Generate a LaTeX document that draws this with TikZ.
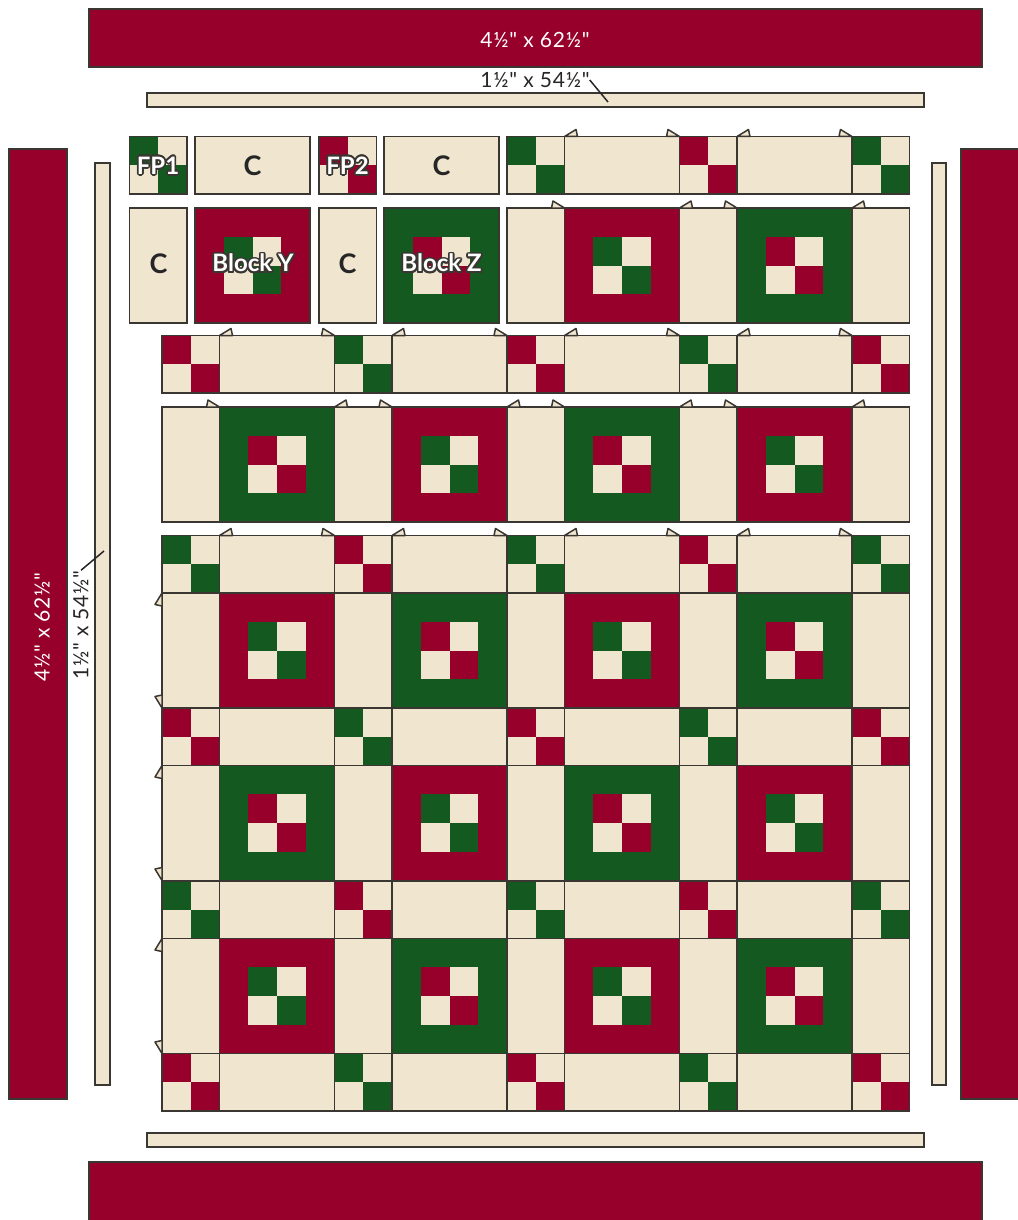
\documentclass[tikz,border=0pt]{standalone}
\usepackage{fontspec}
\setmainfont{Lato}
\newfontfamily\dimfont{Lato}[LetterSpace=3.6]
\newfontfamily\tagfont{Lato Bold}
\usepackage[copies]{contour}
\contourlength{1.7pt}
\contournumber{16}
\definecolor{qRed}{RGB}{150,0,42}
\definecolor{qGreen}{RGB}{20,90,32}
\definecolor{qCream}{RGB}{240,230,208}
\definecolor{qLine}{RGB}{58,54,50}
\newcommand{\fpatch}[3]{%
  \fill[qCream] (#1,#2) rectangle ++(57.5,57.5);
  \fill[#3] (#1,#2) rectangle ++(28.75,28.75);
  \fill[#3] ({#1+28.75},{#2+28.75}) rectangle ++(28.75,28.75);
  \draw[seam] (#1,#2) rectangle ++(57.5,57.5);}
\newcommand{\block}[4]{%
  \fill[#3] (#1,#2) rectangle ++(115,115);
  \fill[qCream] ({#1+28.75},{#2+28.75}) rectangle ++(57.5,57.5);
  \fill[#4] ({#1+28.75},{#2+28.75}) rectangle ++(28.75,28.75);
  \fill[#4] ({#1+57.5},{#2+57.5}) rectangle ++(28.75,28.75);
  \draw[seam] (#1,#2) rectangle ++(115,115);}
\newcommand{\sashC}[2]{\draw[seam,fill=qCream] (#1,#2) rectangle ++(115,57.5);}
\newcommand{\postC}[2]{\draw[seam,fill=qCream] (#1,#2) rectangle ++(57.5,115);}
% one ear on the top edge, pointing right (+1) or left (-1)
\newcommand{\ear}[3]{\draw[seam,fill=qCream,line join=round] (#1,#2) -- ++({#3*11.5},-7) -- ++({#3*1.5},7) -- cycle;}
% one ear on the left edge, pointing down (+1) or up (-1)
\newcommand{\sideear}[3]{\draw[seam,fill=qCream,line join=round] (#1,#2) -- ++(-7,{#3*11.5}) -- ++(7,{#3*1.5}) -- cycle;}
% the two ears on top of a horizontal C, or of a vertical C
\newcommand{\sashears}[2]{\ear{#1}{#2}{1}\ear{#1+115}{#2}{-1}}
\newcommand{\postears}[2]{\ear{#1}{#2}{1}\ear{#1+57.5}{#2}{-1}}
\newcommand{\sashrow}[3]{%
  \foreach \cx/\cc in {162/#2,334.5/#3,507/#2,679.5/#3,852/#2} {\fpatch{\cx}{#1}{\cc}}
  \foreach \cx in {219.5,392,564.5,737} {\sashC{\cx}{#1}}}
\newcommand{\blockrow}[5]{%
  \foreach \cx in {162,334.5,507,679.5,852} {\postC{\cx}{#1}}
  \block{219.5}{#1}{#2}{#3}\block{392}{#1}{#4}{#5}
  \block{564.5}{#1}{#2}{#3}\block{737}{#1}{#4}{#5}}

\begin{document}
\begin{tikzpicture}[x=1pt,y=-1pt,
   seam/.style={draw=qLine,line width=1.5pt},
   strip/.style={draw=qLine,line width=1.5pt,fill=qCream},
   border/.style={draw=qLine,line width=1.5pt,fill=qRed},
   dim/.style={font=\dimfont\fontsize{21}{21}\selectfont,inner sep=0pt},
   letter/.style={font=\tagfont\fontsize{27}{27}\selectfont,text=black!85,inner sep=0pt},
   tag/.style={font=\tagfont\fontsize{24}{24}\selectfont,text=white,inner sep=0pt},
   leader/.style={line width=1.5pt,draw=black!85}]
\useasboundingbox (0,0) rectangle (1017,1220);
%% ---- outer borders and thin strips ----
\draw[border] (89,9) rectangle (982,67);
\draw[border] (89,1162) rectangle (982,1230);
\draw[border] (9,149) rectangle (67,1099);
\draw[border] (961,149) rectangle (1030,1099);
\draw[strip] (147,93) rectangle (924,107);
\draw[strip] (147,1133) rectangle (924,1147);
\draw[strip] (95,163) rectangle (110,1085);
\draw[strip] (932,163) rectangle (946,1085);
%% ---- exploded top rows ----
\fpatch{129.5}{136.5}{qGreen}
\draw[seam,fill=qCream] (195,136.5) rectangle ++(115,57.5);
\fpatch{319}{136.5}{qRed}
\draw[seam,fill=qCream] (384,136.5) rectangle ++(115,57.5);
\foreach \cx/\cc in {507/qGreen,679.5/qRed,852/qGreen} {\fpatch{\cx}{136.5}{\cc}}
\foreach \cx in {564.5,737} {\sashC{\cx}{136.5}\sashears{\cx}{136.5}}
\postC{129.5}{208}
\block{195}{208}{qRed}{qGreen}
\postC{319}{208}
\block{384}{208}{qGreen}{qRed}
\foreach \cx in {507,679.5,852} {\postC{\cx}{208}}
\block{564.5}{208}{qRed}{qGreen}
\block{737}{208}{qGreen}{qRed}
\ear{564.5}{208}{-1}
\postears{679.5}{208}
\ear{852}{208}{1}
%% ---- the joined rows ----
\sashrow{335.5}{qRed}{qGreen}
\blockrow{407}{qGreen}{qRed}{qRed}{qGreen}
\sashrow{535.5}{qGreen}{qRed}
\blockrow{593}{qRed}{qGreen}{qGreen}{qRed}
\sashrow{708}{qRed}{qGreen}
\blockrow{765.5}{qGreen}{qRed}{qRed}{qGreen}
\sashrow{881}{qGreen}{qRed}
\blockrow{938.5}{qRed}{qGreen}{qGreen}{qRed}
\sashrow{1053.5}{qRed}{qGreen}
%% ---- ears on the joined rows ----
\foreach \cy in {335.5,535.5} {\foreach \cx in {219.5,392,564.5,737} {\sashears{\cx}{\cy}}}
\ear{219.5}{407}{-1}
\foreach \cx in {334.5,507,679.5} {\postears{\cx}{407}}
\ear{852}{407}{1}
\foreach \cy in {593,765.5,938.5} {
  \sideear{162}{\cy}{1}
  \sideear{162}{\cy+115}{-1}}
%% ---- labels ----
\node[dim,text=white] (lblTopA) at (535,40) {4½" x 62½"};
\node[dim,text=black!85] (lblTopB) at (535,80) {1½" x 54½"};
\node[dim,text=white,rotate=90] (lblLeftA) at (42,627) {4½" x 62½"};
\node[dim,text=black!85,rotate=90] (lblLeftB) at (81,625) {1½" x 54½"};
\coordinate (tipTop) at (608,102);
\coordinate (tipLeft) at (104,551);
\draw[leader] (lblTopB.east) -- (tipTop);
\draw[leader] (lblLeftB.east) -- (tipLeft);
\node[letter] (c1) at (252.5,166) {C};
\node[letter] (c2) at (441.5,166) {C};
\node[letter] (c3) at (158.5,264) {C};
\node[letter] (c4) at (347.5,264) {C};
\node[tag] (fp1) at (158,166.5) {\contour{qLine}{FP1}};
\node[tag] (fp2) at (347.5,166.5) {\contour{qLine}{FP2}};
\node[tag] (blockY) at (253,264) {\contour{qLine}{Block Y}};
\node[tag] (blockZ) at (441.5,264) {\contour{qLine}{Block Z}};
\end{tikzpicture}
\end{document}
